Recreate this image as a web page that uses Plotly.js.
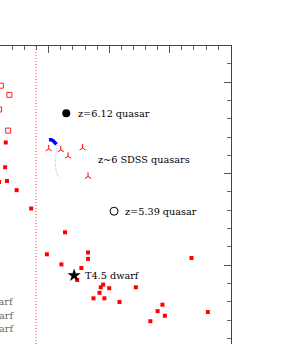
<!DOCTYPE html>
<html>
<head>
<meta charset="utf-8">
<script src="https://cdn.plot.ly/plotly-3.0.1.min.js"></script>
<style>html,body{margin:0;padding:0;background:#fff;}#plot{width:288px;height:344px;}</style>
</head>
<body>
<div id="plot"></div>
<script>
// Filled red squares (dwarfs)
var dwarfX = [1.29, 1.28, 1.31, 1.18, 1.47, 1.71, 2.27, 1.97, 2.21, 2.65, 2.65, 2.54, 2.47, 2.90, 2.86, 3.00, 3.44, 2.84, 2.74, 2.92, 3.17, 4.36, 3.88, 3.80, 3.92, 4.63, 3.68];
var dwarfY = [2.34, 2.07, 1.92, 1.91, 1.82, 1.62, 1.36, 1.12, 1.01, 1.14, 1.07, 0.97, 0.84, 0.79, 0.76, 0.75, 0.76, 0.70, 0.64, 0.64, 0.60, 1.08, 0.57, 0.50, 0.45, 0.49, 0.39];
// Open red squares
var openSqX = [1.21, 1.35, 1.18, 1.33];
var openSqY = [2.96, 2.86, 2.70, 2.47];
// z~6 SDSS quasars (tripods)
var sdssX = [2.00, 2.20, 2.32, 2.56, 2.65];
var sdssY = [2.27, 2.26, 2.19, 2.28, 1.97];
// Blue track (thick) and its dotted continuation
var trackX = [2.005, 2.04, 2.07, 2.10, 2.13];
var trackY = [2.37, 2.37, 2.36, 2.34, 2.32];
var tailX = [2.14, 2.12, 2.11, 2.13, 2.165, 2.20];
var tailY = [2.31, 2.20, 2.10, 2.02, 1.96, 1.95];
// Single objects
var q612 = {x: 2.29, y: 2.66};
var q539 = {x: 3.08, y: 1.59};
var t45 = {x: 2.42, y: 0.89};
// Colour-cut line
var cutX = 1.79;
var yRange = [0.1413, 3.393];
var xRange = [1.195, 5.013];
// Labels
var labelText = ["z=6.12 quasar", "z~6 SDSS quasars", "z=5.39 quasar", "T4.5 dwarf"];
var labelX = [2.47, 2.80, 3.245, 2.58];
var labelY = [2.66, 2.155, 1.59, 0.89];
var legendText = ["M dwarf", "L dwarf", "T dwarf"];
var legendX = 1.44;
var legendY = [0.605, 0.452, 0.311];

var traces = [
  {x: [cutX, cutX], y: yRange, mode: 'lines', line: {color: '#ff4040', width: 1, dash: '1px,2px'}, hoverinfo: 'skip'},
  {x: tailX, y: tailY, mode: 'lines', line: {color: '#a8acff', width: 1, dash: '1px,1.5px', shape: 'spline'}},
  {x: trackX, y: trackY, mode: 'lines', line: {color: '#0000ff', width: 3.5, shape: 'spline'}},
  {x: dwarfX, y: dwarfY, mode: 'markers', marker: {symbol: 'square', size: 4, color: '#ff0000'}},
  {x: openSqX, y: openSqY, mode: 'markers', marker: {symbol: 'square-open', size: 5, color: '#ff2020', line: {width: 1, color: '#ff2020'}}},
  {x: sdssX, y: sdssY, mode: 'markers', marker: {symbol: 'y-up', size: 5, color: '#ff0000', line: {width: 1, color: '#ff0000'}}},
  {x: [q612.x], y: [q612.y], mode: 'markers', marker: {symbol: 'circle', size: 8, color: '#000'}},
  {x: [q539.x], y: [q539.y], mode: 'markers', marker: {symbol: 'circle-open', size: 8, color: '#000', line: {width: 1, color: '#000'}}},
  {x: [t45.x], y: [t45.y], mode: 'markers', marker: {symbol: 'star', size: 10, color: '#000'}}
];

var annotations = [];
for (var i = 0; i < labelText.length; i++) {
  annotations.push({x: labelX[i], y: labelY[i], xref: 'x', yref: 'y', text: labelText[i], showarrow: false,
    xanchor: 'left', yanchor: 'middle', borderpad: 0,
    font: {family: 'DejaVu Serif', size: 9.7, color: '#000'}});
}
for (var j = 0; j < legendText.length; j++) {
  annotations.push({x: legendX, y: legendY[j], xref: 'x', yref: 'y', text: legendText[j], showarrow: false,
    xanchor: 'right', yanchor: 'middle', borderpad: 0,
    font: {family: 'DejaVu Serif', size: 9.7, color: '#666'}});
}

var axisCommon = {showline: true, linecolor: '#444', linewidth: 1, ticks: 'inside', ticklen: 7, tickwidth: 1,
  tickcolor: '#555', showticklabels: false, showgrid: false, zeroline: false, fixedrange: true};

var layout = {
  width: 288, height: 344,
  margin: {l: 0, r: 57, t: 46, b: 0, pad: 0, autoexpand: false},
  paper_bgcolor: '#fff', plot_bgcolor: '#fff',
  showlegend: false,
  xaxis: Object.assign({}, axisCommon, {side: 'top', range: xRange, tick0: 2, dtick: 1,
    minor: {dtick: 0.2, ticks: 'inside', ticklen: 4, tickcolor: '#666', tickwidth: 1, showgrid: false}}),
  yaxis: Object.assign({}, axisCommon, {side: 'right', range: yRange, tick0: 0, dtick: 1,
    minor: {dtick: 0.2, ticks: 'inside', ticklen: 4, tickcolor: '#666', tickwidth: 1, showgrid: false}}),
  annotations: annotations
};

Plotly.newPlot('plot', traces, layout, {staticPlot: true, displayModeBar: false});
</script>
</body>
</html>
